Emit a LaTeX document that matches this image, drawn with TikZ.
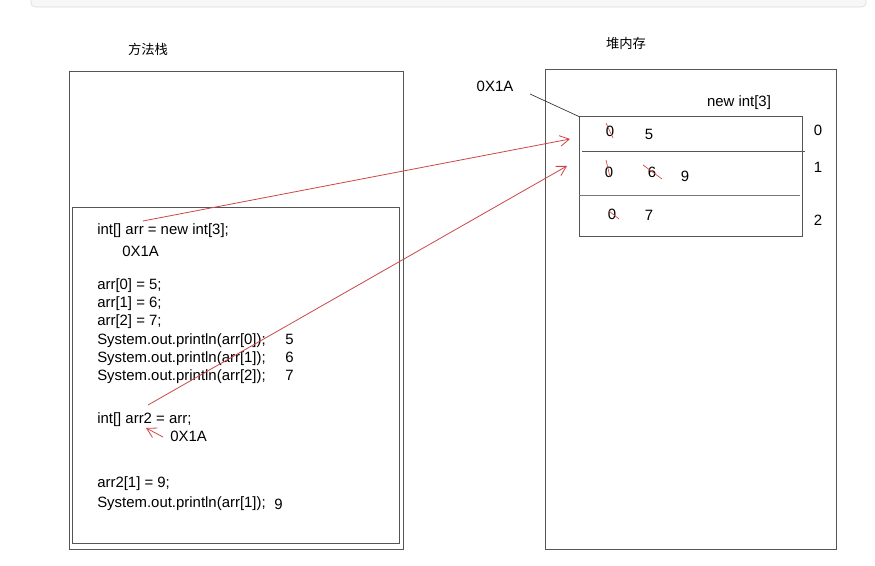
\documentclass[tikz,border=0pt]{standalone}
\usepackage{fontspec}
\setmainfont{Liberation Sans}
\newfontfamily\cjk{Noto Sans CJK SC}
\usetikzlibrary{arrows.meta}
\definecolor{redline}{RGB}{205,70,70}
\definecolor{boxline}{RGB}{85,85,85}
\tikzset{
  box/.style={draw=boxline, line width=0.75pt},
  thinbox/.style={draw=boxline, line width=0.7pt},
  code/.style={anchor=base west, inner sep=0pt, font=\fontsize{11.2pt}{13pt}\selectfont},
  lbl/.style={anchor=center, inner sep=0pt, font=\fontsize{11.2pt}{13pt}\selectfont},
  cn/.style={anchor=center, inner sep=0pt, font=\cjk\fontsize{10pt}{12pt}\selectfont},
  redarrow/.style={draw=redline, line width=0.6pt, -{Straight Barb[length=7pt,width=8pt]}},
  strike/.style={draw=redline, line width=0.5pt},
}
\begin{document}
\begin{tikzpicture}[x=0.75pt,y=-0.75pt]
\useasboundingbox (0,0) rectangle (875,566);
% top bar
\draw[draw=black!15, fill=black!3, rounded corners=3pt] (31,-5) rectangle (866,7);
% titles
\node[cn] (t1) at (148,49) {方法栈};
\node[cn] (t2) at (626,43) {堆内存};
% stack boxes
\draw[box] (69,72) rectangle (403,549);
\draw[thinbox] (72,207) rectangle (399,543);
% heap box
\draw[box] (545,70) rectangle (836,549);
% array box
\draw[thinbox] (579,116) rectangle (802,236);
\draw[thinbox] (582,151) -- (805,151);
\draw[draw=boxline!80, line width=0.7pt] (579,195) -- (800,195);
\node[lbl] (na) at (739,103) {new int[3]};
\node[lbl] (i0) at (818,130) {0};
\node[lbl] (i1) at (818,167) {1};
\node[lbl] (i2) at (818,220) {2};
% heap address
\node[lbl] (addr) at (495,86) {0X1A};
\coordinate (c1) at (530,94);
\coordinate (c2) at (580,117);
\draw[draw=black!80, line width=0.5pt] (c1) -- (c2);
% cell values
\node[lbl] (v00) at (610,131) {0};
\node[lbl] (v01) at (649,134) {5};
\node[lbl] (v10) at (609,172) {0};
\node[lbl] (v11) at (652,172) {6};
\node[lbl] (v12) at (685,176) {9};
\node[lbl] (v20) at (612,214) {0};
\node[lbl] (v21) at (649,215) {7};
\draw[strike] (606,123) -- (613,138);
\draw[strike] (606,160) -- (610,177);
\draw[strike] (643,165) -- (662,179);
\draw[strike] (609,211) -- (619,219);
% code
\node[code] (l1) at (97,235) {int[] arr = new int[3];};
\node[code] (l2) at (122,257) {0X1A};
\node[code] (l3) at (97,290) {arr[0] = 5;};
\node[code] (l4) at (97,308) {arr[1] = 6;};
\node[code] (l5) at (97,326) {arr[2] = 7;};
\node[code] (l6) at (97,345) {System.out.println(arr[0]);};
\node[code] (l7) at (97,363) {System.out.println(arr[1]);};
\node[code] (l8) at (97,381) {System.out.println(arr[2]);};
\node[code] (o6) at (285,345) {5};
\node[code] (o7) at (285,363) {6};
\node[code] (o8) at (285,381) {7};
\node[code] (l9) at (97,424) {int[] arr2 = arr;};
\node[code] (l10) at (170,442) {0X1A};
\node[code] (l11) at (97,488) {arr2[1] = 9;};
\node[code] (l12) at (97,508) {System.out.println(arr[1]);};
\node[code] (o12) at (274,509) {9};
% red arrows
\coordinate (a1s) at (143,221);
\coordinate (a1e) at (570,139);
\coordinate (a2s) at (148,405);
\coordinate (a2e) at (567,166);
\coordinate (a3s) at (163,437);
\coordinate (a3e) at (146,428);
\draw[redarrow] (a1s) -- (a1e);
\draw[redarrow] (a2s) -- (a2e);
\draw[redarrow] (a3s) -- (a3e);
\end{tikzpicture}
\end{document}
